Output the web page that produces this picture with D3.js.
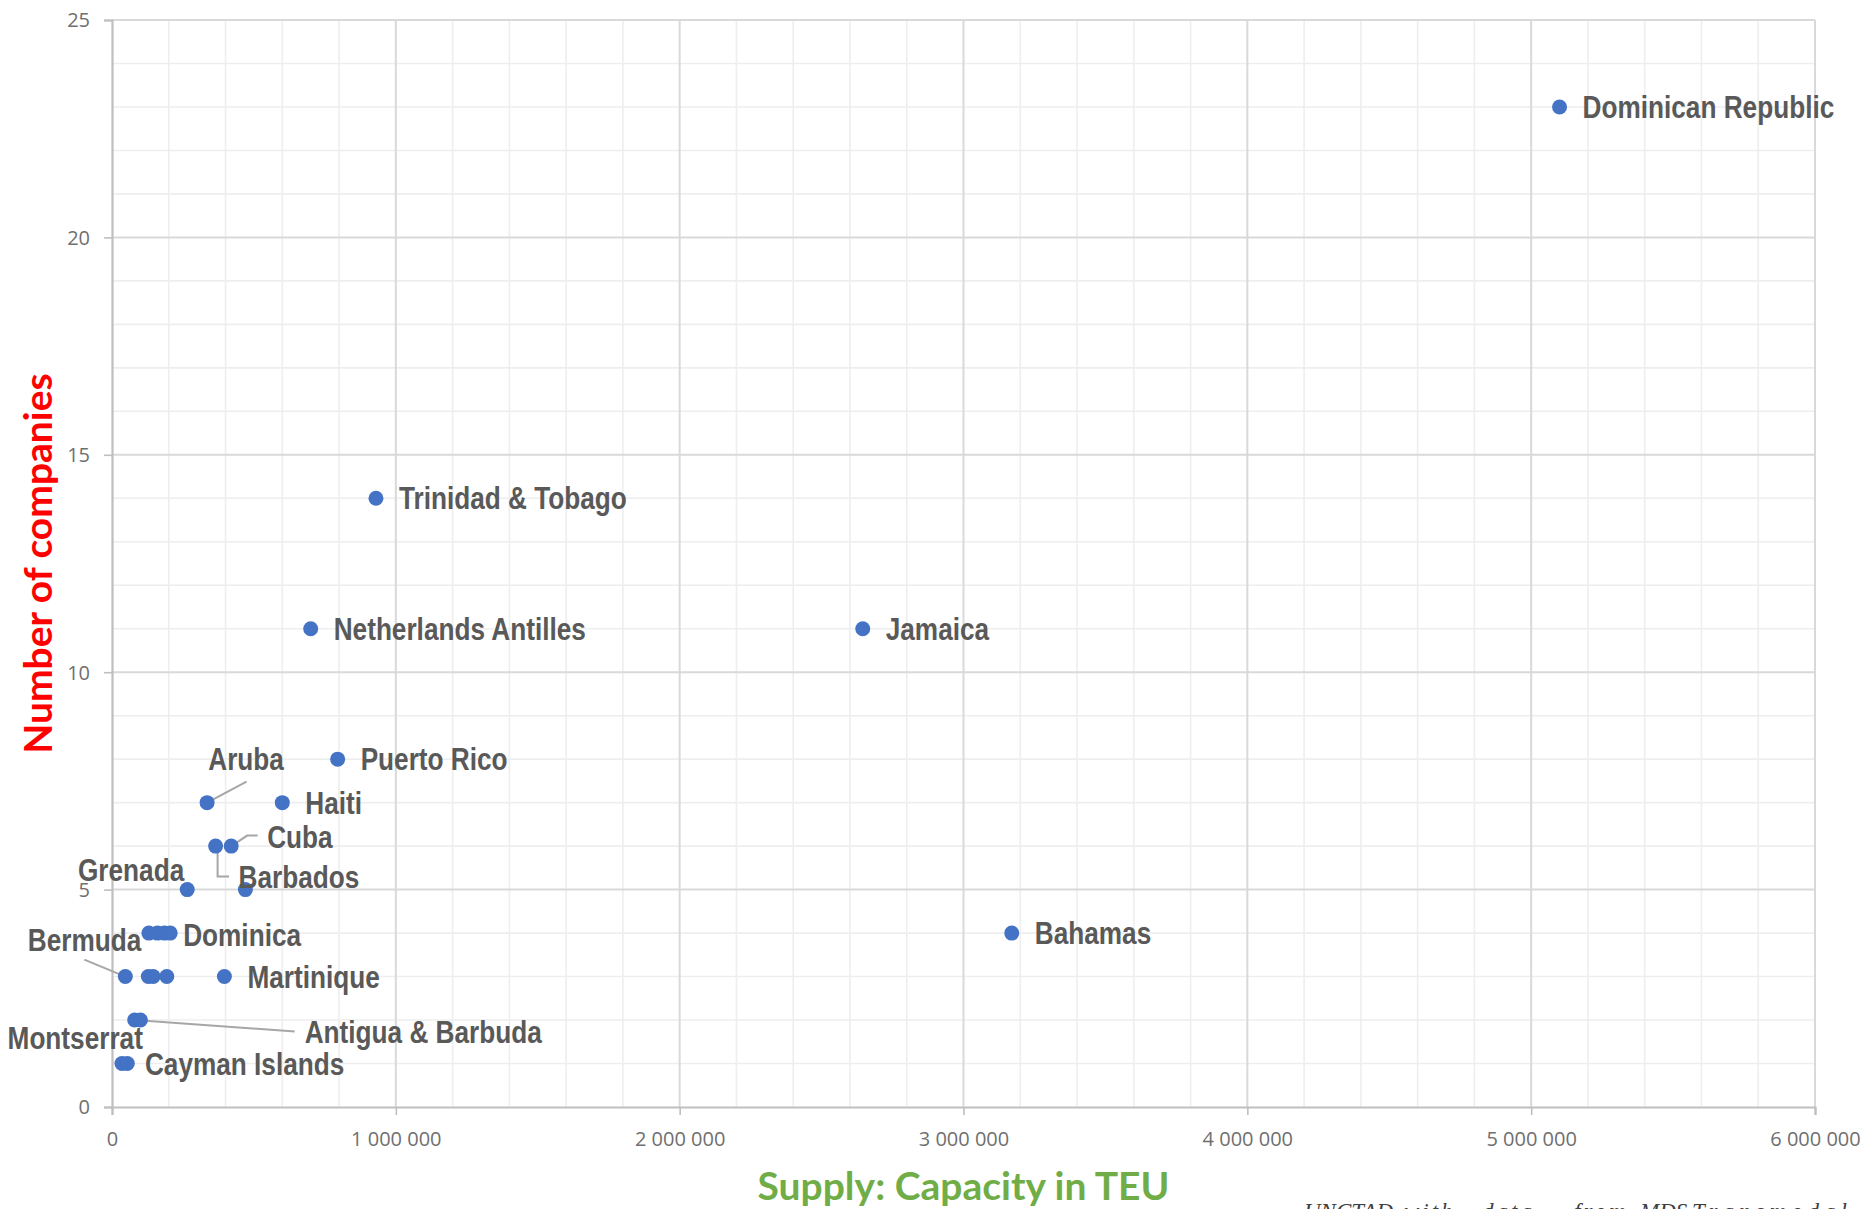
<!DOCTYPE html>
<html>
<head>
<meta charset="utf-8">
<script src="https://cdn.jsdelivr.net/npm/d3@7"></script>
<style>
  html, body { margin: 0; padding: 0; background: #ffffff; }
  svg { display: block; }
</style>
</head>
<body>
<svg id="chart" width="1868" height="1209"></svg>
<script>
// Caribbean countries: container shipping supply vs. number of liner companies
const countries = [
  "Dominican Republic", "Trinidad & Tobago", "Netherlands Antilles", "Jamaica",
  "Puerto Rico", "Aruba", "Haiti", "Cuba", "Barbados", "Grenada", "",
  "Bahamas", "", "", "", "Dominica",
  "Bermuda", "", "", "", "Martinique",
  "Antigua & Barbuda", "Montserrat", "Cayman Islands", ""
];
const capacityTEU = [
  5100000, 930000, 700000, 2645000,
  795000, 335000, 600000, 420000, 365000, 265000, 470000,
  3170000, 130000, 160000, 185000, 205000,
  47000, 128000, 145000, 193000, 396000,
  80000, 100000, 35000, 54000
];
const companies = [
  23, 14, 11, 11,
  8, 7, 7, 6, 6, 5, 5,
  4, 4, 4, 4, 4,
  3, 3, 3, 3, 3,
  2, 2, 1, 1
];
const xTickValues = [0, 1000000, 2000000, 3000000, 4000000, 5000000, 6000000];
const yTickValues = [0, 5, 10, 15, 20, 25];
const xTitle = "Supply: Capacity in TEU";
const yTitle = "Number of companies";
const sourceWords = ["UNCTAD", "with", "data", "from", "MDS", "Transmodal"];

// Label layout (pixel offsets from the marker); default sits to the right
const defaultPlacement = { dx: 23, dy: 0, anchor: "start", leader: null };
const labelPlacement = {
  "Aruba":             { dx: 39,  dy: -43.5, anchor: "middle", leader: [[0, 0], [39.5, -21]] },
  "Cuba":              { dx: 36,  dy: -9,    anchor: "start",  leader: [[0, 0], [16, -10.5], [26.5, -10.5]] },
  "Barbados":          { dx: 23,  dy: 30.5,  anchor: "start",  leader: [[2, 0], [2, 30.5], [13.5, 30.5]] },
  "Grenada":           { dx: -3,  dy: -19.5, anchor: "end",    leader: null },
  "Dominica":          { dx: 13,  dy: 1.5,   anchor: "start",  leader: null },
  "Bermuda":           { dx: 16,  dy: -37,   anchor: "end",    leader: [[0, 0], [-41, -17]] },
  "Antigua & Barbuda": { dx: 170, dy: 11.5,  anchor: "start",  leader: [[0, 0], [160, 11.5]] },
  "Montserrat":        { dx: 2.5, dy: 18,    anchor: "end",    leader: null }
};

const W = 1868, H = 1209;
const margin = { top: 20, right: 53, bottom: 102, left: 112 };

const svg = d3.select("#chart");
svg.append("rect").attr("width", W).attr("height", H).attr("fill", "#ffffff");

const x = d3.scaleLinear().domain([0, 6000000]).range([margin.left, W - margin.right]);
const y = d3.scaleLinear().domain([0, 25]).range([H - margin.bottom, margin.top]);

// Gridlines: minor first, major on top
const grid = svg.append("g");
const minorX = d3.range(200000, 6000001, 200000).filter(v => v % 1000000 !== 0);
const minorY = d3.range(1, 26).filter(v => v % 5 !== 0);

grid.selectAll("line.minor-x").data(minorX).join("line")
  .attr("x1", d => x(d)).attr("x2", d => x(d))
  .attr("y1", y(0)).attr("y2", y(25))
  .attr("stroke", "#eeeeee").attr("stroke-width", 1.6);
grid.selectAll("line.minor-y").data(minorY).join("line")
  .attr("x1", x(0)).attr("x2", x(6000000))
  .attr("y1", d => y(d)).attr("y2", d => y(d))
  .attr("stroke", "#eeeeee").attr("stroke-width", 1.6);
grid.selectAll("line.major-x").data(xTickValues.slice(1)).join("line")
  .attr("x1", d => x(d)).attr("x2", d => x(d))
  .attr("y1", y(0)).attr("y2", y(25))
  .attr("stroke", "#d9d9d9").attr("stroke-width", 2);
grid.selectAll("line.major-y").data(yTickValues.slice(1)).join("line")
  .attr("x1", x(0)).attr("x2", x(6000000))
  .attr("y1", d => y(d)).attr("y2", d => y(d))
  .attr("stroke", "#d9d9d9").attr("stroke-width", 2);

// Axes
const spaced = d3.formatLocale({ decimal: ".", thousands: "\u00a0", grouping: [3], currency: ["", ""] }).format(",");

const yAxis = svg.append("g")
  .attr("transform", `translate(${x(0)},0)`)
  .call(d3.axisLeft(y).tickValues(yTickValues).tickSize(8).tickPadding(14));
const xAxis = svg.append("g")
  .attr("transform", `translate(0,${y(0)})`)
  .call(d3.axisBottom(x).tickValues(xTickValues).tickSize(8).tickFormat(spaced));

[yAxis, xAxis].forEach(ax => {
  ax.select(".domain").attr("stroke", "#bfbfbf").attr("stroke-width", 2.2);
  ax.selectAll(".tick line").attr("stroke", "#bfbfbf").attr("stroke-width", 1.6);
  ax.selectAll(".tick text")
    .attr("fill", "#6f6f6f")
    .style("font-family", "'Open Sans', 'Noto Sans', sans-serif")
    .style("font-size", "20px");
});
yAxis.selectAll(".tick text").attr("dy", "0.34em");
xAxis.selectAll(".tick text").attr("y", 32).attr("dy", "0.35em");

// Points
const points = countries.map((name, i) => ({ name, teu: capacityTEU[i], n: companies[i] }));

// Leader lines
const leaderLine = d3.line();
const leaders = svg.append("g");
points.forEach(p => {
  const pl = labelPlacement[p.name];
  if (!p.name || !pl || !pl.leader) return;
  const cx = x(p.teu), cy = y(p.n);
  leaders.append("path")
    .attr("d", leaderLine(pl.leader.map(([a, b]) => [cx + a, cy + b])))
    .attr("fill", "none")
    .attr("stroke", "#a6a6a6")
    .attr("stroke-width", 2);
});

svg.append("g").selectAll("circle").data(points).join("circle")
  .attr("cx", d => x(d.teu))
  .attr("cy", d => y(d.n))
  .attr("r", 7.5)
  .attr("fill", "#4472c4");

// Data labels (narrow bold sans)
const labels = svg.append("g");
points.filter(p => p.name).forEach(p => {
  const pl = labelPlacement[p.name] || defaultPlacement;
  labels.append("g")
    .attr("transform", `translate(${x(p.teu) + pl.dx},${y(p.n) + pl.dy}) scale(0.845,1)`)
    .append("text")
    .attr("text-anchor", pl.anchor)
    .attr("dy", "0.36em")
    .attr("fill", "#595959")
    .style("font-family", "'Liberation Sans', Arial, sans-serif")
    .style("font-weight", "bold")
    .style("font-size", "31px")
    .text(p.name);
});

// Axis titles
svg.append("text")
  .attr("transform", `translate(52,${(y(0) + y(25)) / 2}) rotate(-90)`)
  .attr("text-anchor", "middle")
  .attr("fill", "#ff0000")
  .style("font-family", "Lato, 'Open Sans', sans-serif")
  .style("font-weight", "bold")
  .style("font-size", "39px")
  .text(yTitle);

svg.append("text")
  .attr("x", (x(0) + x(6000000)) / 2)
  .attr("y", 1200)
  .attr("text-anchor", "middle")
  .attr("fill", "#70ad47")
  .style("font-family", "Lato, 'Open Sans', sans-serif")
  .style("font-weight", "bold")
  .style("font-size", "39px")
  .text(xTitle);

// Source line (justified), running off the bottom edge
const wordX = [1304, 1404, 1482, 1574, 1640, 1692];
const source = svg.append("text")
  .attr("y", 1218.5)
  .attr("fill", "#404040")
  .style("font-family", "'Liberation Serif', 'DejaVu Serif', serif")
  .style("font-style", "italic")
  .style("font-size", "23px");
sourceWords.forEach((w, i) => {
  source.append("tspan")
    .attr("x", wordX[i])
    .style("letter-spacing", i === sourceWords.length - 1 ? "5px" : (i > 0 && i < 4 ? "3px" : "0px"))
    .text(w + (i < sourceWords.length - 1 ? " " : ""));
});
</script>
</body>
</html>
